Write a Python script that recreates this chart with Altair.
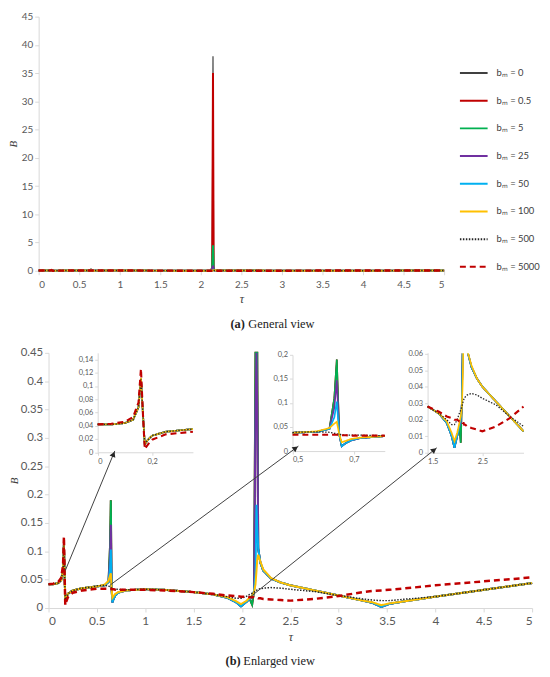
import math
import altair as alt
import pandas as pd

# ---------------- data ----------------
tau = [0.00, 0.05, 0.10, 0.13, 0.15, 0.159, 0.166, 0.173, 0.185, 0.20, 0.25, 0.35, 0.45, 0.50,
       0.58, 0.62, 0.636, 0.644, 0.652, 0.660, 0.672, 0.69, 0.72, 0.80, 1.00, 1.20, 1.50, 1.70,
       1.85, 1.94, 1.99, 2.04, 2.08, 2.105, 2.125, 2.140, 2.150, 2.158, 2.168, 2.19, 2.22, 2.30,
       2.40, 2.50, 2.75, 3.00, 3.25, 3.35, 3.44, 3.52, 3.65, 4.00, 4.50, 5.00]

B_50 = [0.042, 0.042, 0.044, 0.049, 0.068, 0.112, 0.060, 0.012, 0.019, 0.025, 0.031, 0.035, 0.037, 0.038,
        0.040, 0.046, 0.070, 0.103, 0.035, 0.010, 0.016, 0.022, 0.027, 0.031, 0.033, 0.032, 0.028, 0.024,
        0.018, 0.010, 0.003, 0.010, 0.016, 0.020, 0.030, 0.060, 0.182, 0.140, 0.105, 0.080, 0.066, 0.052,
        0.045, 0.040, 0.031, 0.022, 0.013, 0.009, 0.002, 0.007, 0.011, 0.020, 0.032, 0.044]

B_100 = [0.042, 0.042, 0.044, 0.049, 0.068, 0.112, 0.060, 0.012, 0.019, 0.025, 0.031, 0.035, 0.037, 0.038,
         0.041, 0.048, 0.057, 0.061, 0.035, 0.018, 0.021, 0.025, 0.028, 0.031, 0.033, 0.032, 0.028, 0.024,
         0.019, 0.012, 0.007, 0.012, 0.018, 0.022, 0.028, 0.042, 0.065, 0.085, 0.094, 0.082, 0.068, 0.053,
         0.045, 0.040, 0.031, 0.022, 0.013, 0.010, 0.005, 0.008, 0.011, 0.020, 0.032, 0.044]

B_500 = [0.042, 0.042, 0.044, 0.049, 0.068, 0.110, 0.060, 0.012, 0.019, 0.025, 0.031, 0.035, 0.037, 0.039,
         0.040, 0.039, 0.037, 0.036, 0.035, 0.034, 0.033, 0.033, 0.033, 0.032, 0.033, 0.032, 0.028, 0.024,
         0.020, 0.017, 0.017, 0.020, 0.024, 0.026, 0.028, 0.030, 0.031, 0.032, 0.033, 0.034, 0.035, 0.036,
         0.035, 0.033, 0.029, 0.022, 0.016, 0.014, 0.013, 0.013, 0.015, 0.020, 0.032, 0.044]

B_5000 = [0.042, 0.043, 0.046, 0.053, 0.075, 0.126, 0.060, 0.005, 0.012, 0.019, 0.027, 0.031, 0.033, 0.034,
          0.034, 0.034, 0.034, 0.034, 0.033, 0.033, 0.033, 0.032, 0.032, 0.032, 0.032, 0.031, 0.028, 0.025,
          0.022, 0.021, 0.020, 0.020, 0.019, 0.019, 0.019, 0.018, 0.018, 0.018, 0.017, 0.017, 0.016, 0.015,
          0.014, 0.013, 0.016, 0.021, 0.028, 0.030, 0.031, 0.032, 0.034, 0.040, 0.047, 0.054]

# low-damping curves differ from b_m = 50 only at the resonances
PEAK_0 = {0.636: 0.11, 0.644: 0.19, 2.105: 0.006, 2.140: 0.6, 2.150: 38.0, 2.158: 0.6}
PEAK_05 = {0.636: 0.11, 0.644: 0.19, 2.105: 0.006, 2.140: 0.6, 2.150: 35.0, 2.158: 0.6}
PEAK_5 = {0.636: 0.11, 0.644: 0.19, 2.105: 0.006, 2.140: 0.5, 2.150: 4.5, 2.158: 0.5}
PEAK_25 = {0.636: 0.09, 0.644: 0.147, 2.105: 0.018, 2.140: 0.35, 2.150: 0.9, 2.158: 0.35}

B_0 = [PEAK_0.get(t, b) for t, b in zip(tau, B_50)]
B_05 = [PEAK_05.get(t, b) for t, b in zip(tau, B_50)]
B_5 = [PEAK_5.get(t, b) for t, b in zip(tau, B_50)]
B_25 = [PEAK_25.get(t, b) for t, b in zip(tau, B_50)]

LAB = ["bₘ = 0", "bₘ = 0.5", "bₘ = 5", "bₘ = 25", "bₘ = 50", "bₘ = 100", "bₘ = 500", "bₘ = 5000"]
SERIES = [B_0, B_05, B_5, B_25, B_50, B_100, B_500, B_5000]
COL = ["#404040", "#C00000", "#00B050", "#7030A0", "#00B0F0", "#FFC000", "#262626", "#C00000"]
DASH = [[1, 0], [1, 0], [1, 0], [1, 0], [1, 0], [1, 0], [1.5, 1.5], [6, 4]]
WID = [1.2, 2.0, 2.0, 2.0, 2.0, 2.0, 1.5, 2.5]

X_TICKS = [0, 0.5, 1, 1.5, 2, 2.5, 3, 3.5, 4, 4.5, 5]
YA_TICKS = [0, 5, 10, 15, 20, 25, 30, 35, 40, 45]
YB_TICKS = [0, 0.05, 0.1, 0.15, 0.2, 0.25, 0.3, 0.35, 0.4, 0.45]

# arrows (coordinates of the enlarged view): from a resonance to the inset zooming on it
ARROW_TAU0 = [0.173, 0.641, 2.09]
ARROW_B0 = [0.066, 0.041, 0.020]
ARROW_TAU1 = [0.685, 2.584, 4.015]
ARROW_B1 = [0.277, 0.2855, 0.2826]

CAP_TAG = ["(a)", "(b)"]
CAP_TEXT = ["General view", "Enlarged view"]

# ---------------- layout (pixels inside one drawing area) ----------------
W, H = 540, 665
TOP_X, TOP_Y = [31, 441], [262, 5]          # panel (a)
BOT_X, BOT_Y = [41, 530], [603, 345]        # panel (b)

rows = []
for lab, vals in zip(LAB, SERIES):
    for t, b in zip(tau, vals):
        rows.append({"tau": t, "B": b, "bm": lab})
df = pd.DataFrame(rows)

LEGEND = alt.Legend(orient="none", legendX=456, legendY=47, title=None, symbolType="stroke",
                    symbolSize=784, symbolStrokeWidth=2, labelFont="Lato", labelFontSize=9.5,
                    labelColor="#404040", labelOffset=8, rowPadding=8, padding=0)


def ax(size, **kw):
    d = dict(grid=False, domainColor="#D9D9D9", tickColor="#D9D9D9", tickSize=4,
             labelColor="#595959", labelFont="Lato", labelFontSize=size,
             titleFont="Liberation Serif", titleFontStyle="italic", titleFontWeight="normal",
             titleFontSize=11, titleColor="#404040")
    d.update(kw)
    return alt.Axis(**d)


def lines(data, x, y, wscale=1.0):
    layers = []
    for i, lab in enumerate(LAB):
        sub = data[data.bm == lab]
        layers.append(
            alt.Chart(sub).mark_line(strokeWidth=WID[i] * wscale).encode(
                x=x, y=y,
                color=alt.Color("bm:N", scale=alt.Scale(domain=LAB, range=COL), legend=LEGEND),
                strokeDash=alt.StrokeDash("bm:N", scale=alt.Scale(domain=LAB, range=DASH), legend=LEGEND),
            )
        )
    return alt.layer(*layers)


# ---------------- (a) general view ----------------
xa = alt.X("tau:Q", scale=alt.Scale(domain=[0, 5], range=TOP_X, nice=False, zero=False),
           axis=ax(10, orient="bottom", offset=-(H - TOP_Y[0]), values=X_TICKS, format="~g",
                   title="τ", titleFontSize=12, labelPadding=5, titlePadding=4))
ya = alt.Y("B:Q", scale=alt.Scale(domain=[0, 45], range=TOP_Y, nice=False),
           axis=ax(10, orient="left", offset=-TOP_X[0], values=YA_TICKS, format="~g",
                   title="B", labelPadding=2, titlePadding=3))
top = lines(df, xa, ya)

# ---------------- (b) enlarged view ----------------
xb = alt.X("tau:Q", scale=alt.Scale(domain=[0, 5], range=BOT_X, nice=False, zero=False),
           axis=ax(12, orient="bottom", offset=-(H - BOT_Y[0]), values=X_TICKS, format="~g",
                   title="τ", titleFontSize=12, labelPadding=4, titlePadding=5))
yb = alt.Y("B:Q", scale=alt.Scale(domain=[0, 0.45], range=BOT_Y, nice=False, clamp=True),
           axis=ax(11.5, orient="left", offset=-BOT_X[0], values=YB_TICKS, format="~g",
                   title="B", labelPadding=2, titlePadding=1))
main = lines(df, xb, yb)


def inset(xdom, xr, ydom, yr, xt, yt, comma):
    sub = df[(df.tau >= xdom[0]) & (df.tau <= xdom[1])]
    lexpr = ("replace(format(datum.value, '~g'), '.', ',')" if comma
             else "format(datum.value, '~g')")
    st = dict(tickSize=3, labelPadding=2, title=None, labelExpr=lexpr)
    x = alt.X("tau:Q", scale=alt.Scale(domain=xdom, range=xr, nice=False, zero=False),
              axis=ax(7.5, orient="bottom", offset=-(H - yr[0]), values=xt, **st))
    y = alt.Y("B:Q", scale=alt.Scale(domain=ydom, range=yr, nice=False, clamp=True),
              axis=ax(7.5, orient="left", offset=-xr[0], values=yt, **st))
    return lines(sub, x, y, wscale=0.85)


ins1 = inset([0, 0.35], [90.7, 187], [0, 0.15], [445.5, 345], [0, 0.2],
             [0, 0.02, 0.04, 0.06, 0.08, 0.1, 0.12, 0.14], True)
ins2 = inset([0.5, 0.8], [287.7, 381], [0, 0.2], [444.3, 347], [0.5, 0.7],
             [0, 0.05, 0.1, 0.15, 0.2], True)
ins3 = inset([1.5, 3.25], [424.3, 521.3], [0, 0.0625], [446, 341.8], [1.5, 2.5],
             [0, 0.01, 0.02, 0.03, 0.04, 0.05, 0.06], False)

# white band hiding what inset 3 clamps above its 0.06 edge
one = pd.DataFrame({"k": [0]})
mask = alt.Chart(one).mark_rect(color="white").encode(
    x=alt.value(420), x2=alt.value(527), y=alt.value(334), y2=alt.value(345.5))

# arrows
kx = (BOT_X[1] - BOT_X[0]) / 5.0
ky = (BOT_Y[0] - BOT_Y[1]) / 0.45
arr = pd.DataFrame({"t0": ARROW_TAU0, "b0": ARROW_B0, "t1": ARROW_TAU1, "b1": ARROW_B1})
angs, th, bh = [], [], []
for t0, b0, t1, b1 in zip(ARROW_TAU0, ARROW_B0, ARROW_TAU1, ARROW_B1):
    a = math.atan2((t1 - t0) * kx, (b1 - b0) * ky)
    angs.append(math.degrees(a) % 360)
    th.append(t1 - 3.5 * math.sin(a) / kx)
    bh.append(b1 - 3.5 * math.cos(a) / ky)
arr["ang"], arr["th"], arr["bh"] = angs, th, bh

sx = alt.Scale(domain=[0, 5], range=BOT_X, nice=False, zero=False)
sy = alt.Scale(domain=[0, 0.45], range=BOT_Y, nice=False)
rule = alt.Chart(arr).mark_rule(color="#404040", strokeWidth=1).encode(
    x=alt.X("t0:Q", scale=sx, axis=None), y=alt.Y("b0:Q", scale=sy, axis=None),
    x2="t1:Q", y2="b1:Q")
head = alt.Chart(arr).mark_point(shape="triangle-up", filled=True, size=40, color="#262626",
                                 opacity=1).encode(
    x=alt.X("th:Q", scale=sx, axis=None), y=alt.Y("bh:Q", scale=sy, axis=None),
    angle=alt.Angle("ang:Q", scale=None))
arrows = alt.layer(rule, head)

# captions
caps = []
for i, (px, py) in enumerate([(225, 316), (220, 657)]):
    d = pd.DataFrame({"tag": [CAP_TAG[i]], "txt": [CAP_TEXT[i]]})
    caps.append(alt.Chart(d).mark_text(align="left", baseline="middle", font="Liberation Serif",
                                       fontSize=12.5, fontWeight="bold", color="#222222").encode(
        text="tag:N", x=alt.value(px), y=alt.value(py)))
    caps.append(alt.Chart(d).mark_text(align="left", baseline="middle", font="Liberation Serif",
                                       fontSize=12.5, color="#222222").encode(
        text="txt:N", x=alt.value(px + 18), y=alt.value(py)))

chart = alt.layer(top, main, ins1, ins2, ins3, mask, arrows, *caps).resolve_scale(
    x="independent", y="independent").properties(
    width=W, height=H,
    autosize=alt.AutoSizeParams(type="none"),
    padding={"left": 0, "top": 0, "right": 0, "bottom": 0},
    background="white",
).configure_view(stroke=None)

chart.save("out.html", embed_options={"renderer": "svg", "actions": False})
